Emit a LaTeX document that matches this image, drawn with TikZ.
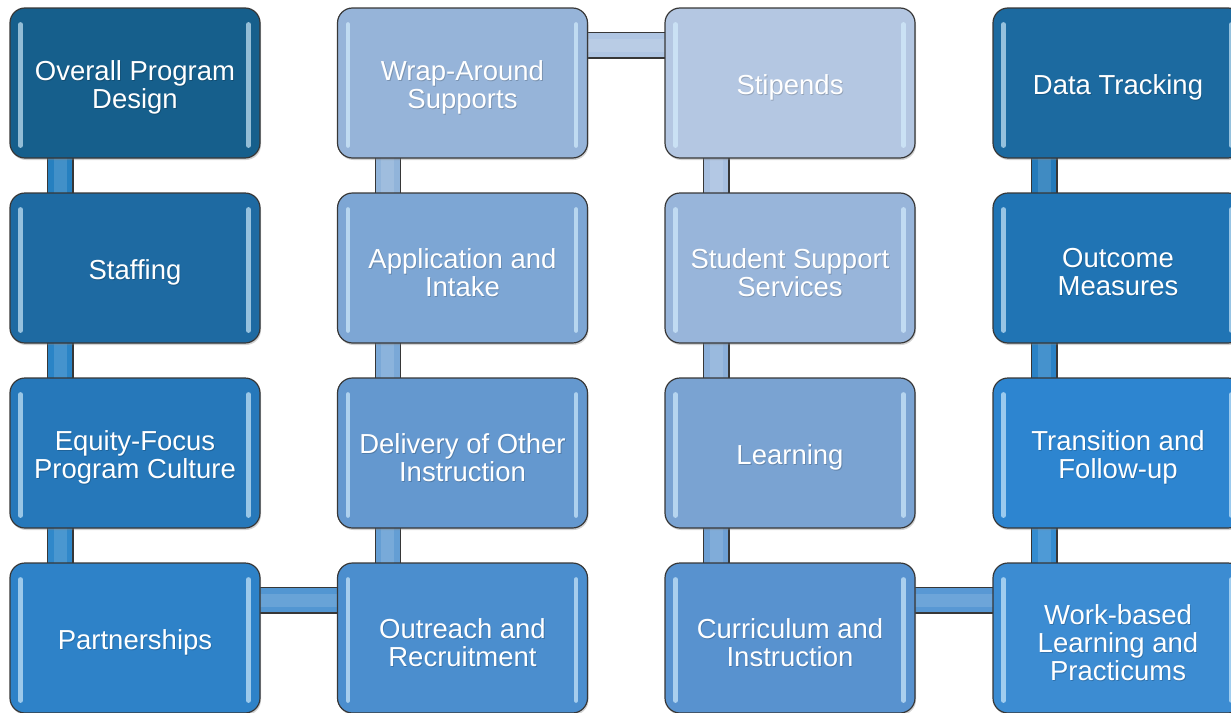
\documentclass[tikz,border=0pt]{standalone}
\usepackage{fontspec}
\setmainfont{Liberation Sans}
\usetikzlibrary{shadows}
\pgfdeclarelayer{background}
\pgfsetlayers{background,main}
\definecolor{c1}{RGB}{22,95,140}
\definecolor{c2}{RGB}{30,106,162}
\definecolor{c3}{RGB}{38,120,186}
\definecolor{c4}{RGB}{46,130,200}
\definecolor{c5}{RGB}{75,142,206}
\definecolor{c6}{RGB}{100,152,207}
\definecolor{c7}{RGB}{125,166,212}
\definecolor{c8}{RGB}{150,180,217}
\definecolor{c9}{RGB}{180,199,226}
\definecolor{c10}{RGB}{152,181,218}
\definecolor{c11}{RGB}{122,163,210}
\definecolor{c12}{RGB}{88,146,207}
\definecolor{c13}{RGB}{60,140,210}
\definecolor{c14}{RGB}{45,133,208}
\definecolor{c15}{RGB}{32,116,180}
\definecolor{c16}{RGB}{28,106,160}
\definecolor{k1}{RGB}{38,128,192}
\definecolor{k2}{RGB}{42,132,198}
\definecolor{k3}{RGB}{48,136,202}
\definecolor{k4}{RGB}{82,150,210}
\definecolor{k5}{RGB}{100,158,212}
\definecolor{k6}{RGB}{122,168,215}
\definecolor{k7}{RGB}{145,180,218}
\definecolor{k8}{RGB}{175,197,226}
\definecolor{k9}{RGB}{168,192,224}
\definecolor{k10}{RGB}{140,176,218}
\definecolor{k11}{RGB}{110,160,212}
\definecolor{k12}{RGB}{88,152,212}
\definecolor{k13}{RGB}{52,140,208}
\definecolor{k14}{RGB}{42,130,198}
\definecolor{k15}{RGB}{36,122,186}
\definecolor{edge}{RGB}{55,55,55}
\definecolor{hlc}{RGB}{215,240,255}
\tikzset{
  pbox/.style={draw=edge, line width=1.2pt, rounded corners=15pt,
    minimum width=250pt, minimum height=150pt, inner sep=0pt,
    fill=#1, drop shadow={opacity=0.35, shadow xshift=1pt, shadow yshift=-2pt}},
  ptxt/.style={text=white, align=center, inner sep=0pt, font=\fontsize{27.5}{28}\selectfont},
  pshd/.style={text=black, opacity=0.18, align=center, inner sep=0pt, font=\fontsize{27.5}{28}\selectfont},
  bar/.style={draw=edge, line width=1.2pt, double=#1, double distance=24pt},
  barhl/.style={draw=white, opacity=0.13, line width=13pt},
  hl/.style={draw=hlc, opacity=0.65, line width=4.5pt, line cap=round}
}
\newcommand{\pbx}[5]{%
  \node[pbox=#4] (#1) at (#2,#3) {};
  \node[pshd] (#1s) at ([xshift=0.8pt,yshift=-5.3pt]#1.center) {#5};
  \node[ptxt] (#1t) at ([yshift=-4.5pt]#1.center) {#5};
  \draw[hl] ([shift={(11pt,-17pt)}]#1.north west) -- ([shift={(11pt,13pt)}]#1.south west);
  \draw[hl] ([shift={(-12pt,-17pt)}]#1.north east) -- ([shift={(-12pt,13pt)}]#1.south east);}
\newcommand{\vconn}[4]{%
  \draw[bar=#3] ([xshift=#4,yshift=5pt]#1.south west) -- ([xshift=#4,yshift=-5pt]#2.north west);
  \draw[barhl] ([xshift=#4,yshift=5pt]#1.south west) -- ([xshift=#4,yshift=-5pt]#2.north west);}
\newcommand{\hconn}[3]{%
  \draw[bar=#3] ([xshift=-5pt,yshift=-38pt]#1.north east) -- ([xshift=5pt,yshift=-38pt]#2.north west);
  \draw[barhl] ([xshift=-5pt,yshift=-38pt]#1.north east) -- ([xshift=5pt,yshift=-38pt]#2.north west);}
\begin{document}
\begin{tikzpicture}[x=1pt,y=-1pt]
\useasboundingbox (0,0) rectangle (1231,712);
\clip (0,0) rectangle (1231,712);
% column 1
\pbx{b1}{135}{83}{c1}{Overall Program\\Design}
\pbx{b2}{135}{268}{c2}{Staffing}
\pbx{b3}{135}{453}{c3}{Equity-Focus\\Program Culture}
\pbx{b4}{135}{638}{c4}{Partnerships}
% column 2
\pbx{b5}{462.5}{638}{c5}{Outreach and\\Recruitment}
\pbx{b6}{462.5}{453}{c6}{Delivery of Other\\Instruction}
\pbx{b7}{462.5}{268}{c7}{Application and\\Intake}
\pbx{b8}{462.5}{83}{c8}{Wrap-Around\\Supports}
% column 3
\pbx{b9}{790}{83}{c9}{Stipends}
\pbx{b10}{790}{268}{c10}{Student Support\\Services}
\pbx{b11}{790}{453}{c11}{Learning}
\pbx{b12}{790}{638}{c12}{Curriculum and\\Instruction}
% column 4
\pbx{b13}{1118}{638}{c13}{Work-based\\Learning and\\Practicums}
\pbx{b14}{1118}{453}{c14}{Transition and\\Follow-up}
\pbx{b15}{1118}{268}{c15}{Outcome\\Measures}
\pbx{b16}{1118}{83}{c16}{Data Tracking}
\begin{pgfonlayer}{background}
  \vconn{b1}{b2}{k1}{51pt}
  \vconn{b2}{b3}{k2}{51pt}
  \vconn{b3}{b4}{k3}{51pt}
  \hconn{b4}{b5}{k4}
  \vconn{b6}{b5}{k5}{51pt}
  \vconn{b7}{b6}{k6}{51pt}
  \vconn{b8}{b7}{k7}{51pt}
  \hconn{b8}{b9}{k8}
  \vconn{b9}{b10}{k9}{52pt}
  \vconn{b10}{b11}{k10}{52pt}
  \vconn{b11}{b12}{k11}{52pt}
  \hconn{b12}{b13}{k12}
  \vconn{b14}{b13}{k13}{52pt}
  \vconn{b15}{b14}{k14}{52pt}
  \vconn{b16}{b15}{k15}{52pt}
\end{pgfonlayer}
\end{tikzpicture}
\end{document}
